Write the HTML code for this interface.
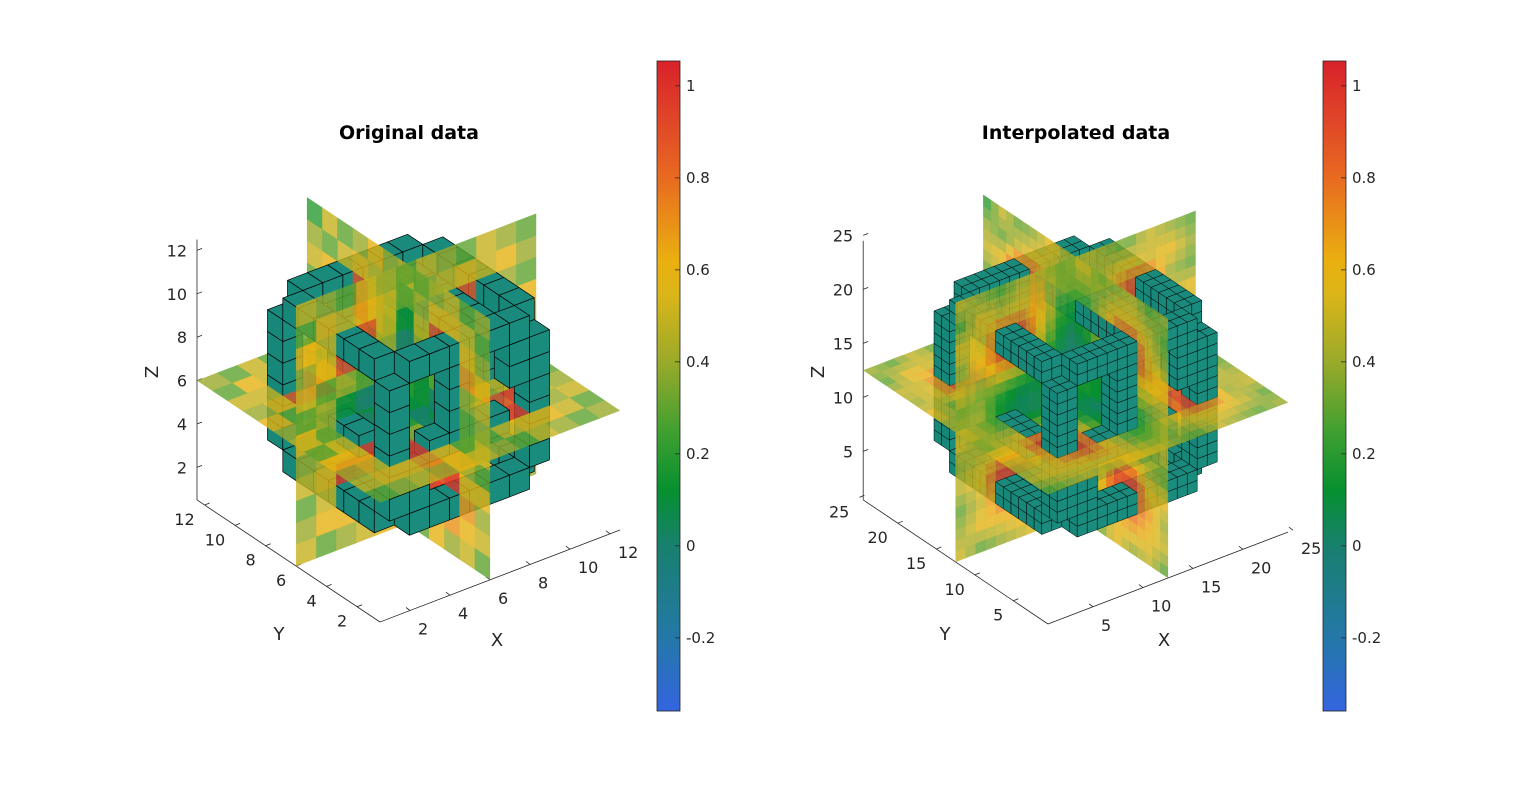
<!DOCTYPE html>
<html><head><meta charset="utf-8"><style>
body{margin:0;background:#fff;}
svg{display:block;font-family:"DejaVu Sans","Liberation Sans",sans-serif;}
</style></head><body>
<svg id="fig" width="1514" height="800" viewBox="0 0 1514 800">
<rect width="1514" height="800" fill="#fff"/>
<text x="409" y="139" text-anchor="middle" font-size="19" font-weight="bold" fill="#000">Original data</text>
<text x="1076" y="139" text-anchor="middle" font-size="19" font-weight="bold" fill="#000">Interpolated data</text>
<g id="left"></g>
<g id="right"></g>
<g id="cbars"></g>
</svg>
<script>
const planeX = [
[0.3,0.5,0.4,0.6,0.3,0.5,0.6,0.4,0.5,0.3,0.4,0.3],
[0.5,0.6,0.7,0.6,0.4,0.3,0.4,0.6,0.7,0.5,0.6,0.4],
[0.4,0.7,0.9,1.0,0.5,0.2,0.2,0.6,1.0,0.9,0.5,0.3],
[0.6,0.6,1.0,0.9,0.4,0.1,0.1,0.5,0.9,1.0,0.6,0.5],
[0.3,0.4,0.5,0.4,0.2,0.0,0.0,0.2,0.4,0.5,0.3,0.4],
[0.5,0.3,0.2,0.1,0.1,0.1,0.1,0.0,0.1,0.2,0.5,0.6],
[0.4,0.3,0.1,0.0,0.1,0.2,0.1,0.1,0.0,0.2,0.4,0.5],
[0.5,0.4,0.4,0.3,0.1,0.0,0.0,0.2,0.4,0.4,0.5,0.4],
[0.6,0.7,0.9,1.0,0.4,0.1,0.1,0.5,1.0,0.9,0.5,0.3],
[0.4,0.6,1.0,0.9,0.5,0.1,0.3,0.6,0.9,1.0,0.6,0.5],
[0.3,0.5,0.6,0.6,0.4,0.3,0.4,0.5,0.6,0.5,0.3,0.4],
[0.4,0.3,0.5,0.4,0.3,0.5,0.4,0.6,0.4,0.3,0.5,0.2]];
const planeY = [
[0.5,0.3,0.4,0.5,0.6,0.4,0.3,0.5,0.4,0.6,0.3,0.4],
[0.4,0.6,0.6,0.7,0.5,0.3,0.3,0.7,0.6,0.5,0.6,0.3],
[0.3,0.5,0.9,1.0,0.6,0.2,0.1,0.6,1.0,0.9,0.5,0.4],
[0.5,0.6,1.0,0.9,0.4,0.0,0.1,0.5,0.9,1.0,0.4,0.5],
[0.4,0.5,0.5,0.4,0.2,0.0,0.0,0.2,0.4,0.5,0.3,0.4],
[0.6,0.4,0.2,0.1,0.0,0.1,0.1,0.0,0.2,0.3,0.5,0.3],
[0.3,0.4,0.1,0.0,0.1,0.2,0.2,0.1,0.1,0.2,0.4,0.5],
[0.5,0.3,0.4,0.3,0.1,0.0,0.0,0.1,0.3,0.4,0.6,0.4],
[0.4,0.6,0.9,1.0,0.4,0.0,0.1,0.5,1.0,0.9,0.5,0.6],
[0.6,0.5,1.0,0.9,0.5,0.1,0.3,0.6,0.9,1.0,0.4,0.3],
[0.3,0.6,0.5,0.6,0.5,0.3,0.4,0.5,0.6,0.5,0.6,0.4],
[0.5,0.4,0.3,0.5,0.4,0.3,0.5,0.4,0.3,0.5,0.4,0.3]];
const planeZ = [
[0.3,0.4,0.5,0.4,0.6,0.5,0.4,0.3,0.5,0.4,0.3,0.4],
[0.5,0.6,0.6,0.7,0.6,0.3,0.3,0.5,0.6,0.6,0.5,0.3],
[0.4,0.5,0.9,1.0,0.5,0.2,0.2,0.6,1.0,0.9,0.4,0.5],
[0.6,0.6,1.0,0.9,0.4,0.0,0.1,0.5,0.9,1.0,0.5,0.4],
[0.3,0.5,0.5,0.4,0.2,0.0,0.0,0.2,0.4,0.5,0.6,0.3],
[0.5,0.3,0.2,0.0,0.1,0.1,0.2,0.0,0.1,0.3,0.4,0.5],
[0.4,0.4,0.1,0.1,0.0,0.2,0.1,0.1,0.0,0.2,0.3,0.4],
[0.6,0.3,0.4,0.3,0.1,0.0,0.0,0.1,0.3,0.4,0.5,0.3],
[0.4,0.6,0.9,1.0,0.4,0.0,0.2,0.5,1.0,0.9,0.6,0.5],
[0.5,0.5,1.0,0.9,0.5,0.2,0.3,0.6,0.9,1.0,0.4,0.4],
[0.3,0.6,0.5,0.6,0.5,0.3,0.4,0.6,0.5,0.5,0.6,0.3],
[0.4,0.3,0.5,0.3,0.4,0.5,0.4,0.3,0.4,0.5,0.3,0.4]];
const boxes = [
[3,10,3,3,3,3],[3,10,10,10,3,3],[3,10,3,3,10,10],[3,10,10,10,10,10],
[3,3,3,10,3,3],[10,10,3,10,3,3],[3,3,3,10,10,10],[10,10,3,10,10,10],
[3,3,3,3,3,10],[10,10,3,3,3,10],[3,3,10,10,3,10],[10,10,10,10,3,10],
[5,8,3,3,6,6],[6,6,3,3,6,9],[4,4,3,3,4,5],[9,9,3,3,8,9],[3,3,5,6,6,6],[7,8,4,8,10,10],
[6,7,10,10,4,9],[10,10,6,7,4,9],[4,9,6,7,3,3]];
const removed = [[3,3,3],[10,3,3],[3,10,3],[10,10,3],[3,3,10],[10,3,10],[3,10,10],[10,10,10]];
const ticksLeft = [2,4,6,8,10,12];
const ticksRight = [5,10,15,20,25];
const cbTicks = [-0.2,0,0.2,0.4,0.6,0.8,1];
const cbRange = [-0.359,1.054];

const stops=[[-0.36,[52,100,224]],[-0.2,[36,120,168]],[0,[24,128,110]],[0.12,[6,144,48]],[0.25,[64,160,48]],[0.4,[154,170,42]],[0.55,[220,181,24]],[0.62,[234,176,16]],[0.8,[232,106,32]],[0.92,[224,72,40]],[1.06,[216,32,42]]];
function cmap(v){
  if(v<=stops[0][0])return 'rgb('+stops[0][1]+')';
  for(let i=1;i<stops.length;i++){if(v<=stops[i][0]){const a=stops[i-1],b=stops[i];const t=(v-a[0])/(b[0]-a[0]);return 'rgb('+a[1].map((c,k)=>Math.round(c+(b[1][k]-c)*t)).join(',')+')';}}
  return 'rgb('+stops[stops.length-1][1]+')';
}
const NS='http://www.w3.org/2000/svg';
function el(tag,attrs,parent){const e=document.createElementNS(NS,tag);for(const k in attrs)e.setAttribute(k,attrs[k]);parent.appendChild(e);return e;}
function sample(arr,u,v){
  u=Math.min(Math.max(u,1),12)-1;v=Math.min(Math.max(v,1),12)-1;
  const u0=Math.min(Math.floor(u),10),v0=Math.min(Math.floor(v),10),fu=u-u0,fv=v-v0;
  return arr[v0][u0]*(1-fu)*(1-fv)+arr[v0][u0+1]*fu*(1-fv)+arr[v0+1][u0]*(1-fu)*fv+arr[v0+1][u0+1]*fu*fv;
}
function draw(g,cfg){
  const N=cfg.N,S=cfg.scale;
  const P=(x,y,z)=>[cfg.O[0]+(x-0.5)*cfg.ex[0]+(y-0.5)*cfg.ey[0],cfg.O[1]+(x-0.5)*cfg.ex[1]+(y-0.5)*cfg.ey[1]+(z-0.5)*cfg.ez];
  const depth=(x,y,z)=>x+1.311*y-0.971*z;
  const ax=[[P(0.5,N+0.5,0.5),P(0.5,N+0.5,N+0.5),'z-axis-line'],[P(0.5,0.5,0.5),P(0.5,N+0.5,0.5),'y-axis-line'],[P(0.5,0.5,0.5),P(N+0.5,0.5,0.5),'x-axis-line']];
  ax.forEach(a=>{const l=el('line',{x1:a[0][0],y1:a[0][1],x2:a[1][0],y2:a[1][1],stroke:'#262626','stroke-width':0.8},g);});
  cfg.ticks.forEach(t=>{
    let p=P(0.5,N+0.5,t);
    el('line',{x1:p[0],y1:p[1],x2:p[0]+5,y2:p[1]-2,stroke:'#262626','stroke-width':0.8},g);
    let tx=el('text',{x:p[0]-10,y:p[1]+6,'text-anchor':'end','font-size':16,fill:'#262626'},g);tx.textContent=t;
    
    p=P(0.5,t,0.5);
    el('line',{x1:p[0],y1:p[1],x2:p[0]+5,y2:p[1]-2,stroke:'#262626','stroke-width':0.8},g);
    tx=el('text',{x:p[0]-10,y:p[1]+20,'text-anchor':'end','font-size':16,fill:'#262626'},g);tx.textContent=t;
    
    p=P(t,0.5,0.5);
    el('line',{x1:p[0],y1:p[1],x2:p[0]-4,y2:p[1]-3,stroke:'#262626','stroke-width':0.8},g);
    tx=el('text',{x:p[0]+8,y:p[1]+24,'text-anchor':'start','font-size':16,fill:'#262626'},g);tx.textContent=t;
    
  });
  const labs=[['Z',cfg.lab.z],['Y',cfg.lab.y],['X',cfg.lab.x]];
  labs.forEach(l=>{const t=el('text',{x:l[1][0],y:l[1][1],'text-anchor':'middle','font-size':18,fill:'#262626'},g);t.textContent=l[0];
    
    if(l[0]==='Z')t.setAttribute('transform','rotate(-90 '+l[1][0]+' '+(l[1][1]-6)+')');});
  const prims=[];
  const c=cfg.mid;
  for(let a=1;a<=N;a++)for(let b=1;b<=N;b++){
    const u=1+(a-1)*11/(N-1),v=1+(b-1)*11/(N-1);
    prims.push({pts:[P(c,a-.5,b-.5),P(c,a+.5,b-.5),P(c,a+.5,b+.5),P(c,a-.5,b+.5)],d:depth(c,a,b),fill:cmap(sample(planeX,u,v)),plane:'x-slice-cell'});
    prims.push({pts:[P(a-.5,c,b-.5),P(a+.5,c,b-.5),P(a+.5,c,b+.5),P(a-.5,c,b+.5)],d:depth(a,c,b),fill:cmap(sample(planeY,u,v)),plane:'y-slice-cell'});
    prims.push({pts:[P(a-.5,b-.5,c),P(a+.5,b-.5,c),P(a+.5,b+.5,c),P(a-.5,b+.5,c)],d:depth(a,b,c),fill:cmap(sample(planeZ,u,v)),plane:'z-slice-cell'});
  }
  const occ=new Set();
  boxes.forEach(bx=>{for(let i=(bx[0]-1)*S+1;i<=bx[1]*S;i++)for(let j=(bx[2]-1)*S+1;j<=bx[3]*S;j++)for(let k=(bx[4]-1)*S+1;k<=bx[5]*S;k++)occ.add(i+','+j+','+k);});
  removed.forEach(r=>{for(let i=(r[0]-1)*S+1;i<=r[0]*S;i++)for(let j=(r[1]-1)*S+1;j<=r[1]*S;j++)for(let k=(r[2]-1)*S+1;k<=r[2]*S;k++)occ.delete(i+','+j+','+k);});
  occ.forEach(key=>{
    const [i,j,k]=key.split(',').map(Number);
    if(!occ.has((i-1)+','+j+','+k))prims.push({pts:[P(i-.5,j-.5,k-.5),P(i-.5,j+.5,k-.5),P(i-.5,j+.5,k+.5),P(i-.5,j-.5,k+.5)],d:depth(i-.5,j,k),fill:'#17877a'});
    if(!occ.has(i+','+(j-1)+','+k))prims.push({pts:[P(i-.5,j-.5,k-.5),P(i+.5,j-.5,k-.5),P(i+.5,j-.5,k+.5),P(i-.5,j-.5,k+.5)],d:depth(i,j-.5,k),fill:'#1a8c7e'});
    if(!occ.has(i+','+j+','+(k+1)))prims.push({pts:[P(i-.5,j-.5,k+.5),P(i+.5,j-.5,k+.5),P(i+.5,j+.5,k+.5),P(i-.5,j+.5,k+.5)],d:depth(i,j,k+.5),fill:'#198a7c'});
  });
  prims.sort((a,b)=>b.d-a.d);
  prims.forEach(p=>{
    const pts=p.pts.map(q=>q[0].toFixed(1)+','+q[1].toFixed(1)).join(' ');
    let e;
    if(p.plane){e=el('polygon',{points:pts,fill:p.fill,'fill-opacity':0.8,stroke:p.fill,'stroke-opacity':0.5,'stroke-width':0.3},g);}
    else{e=el('polygon',{points:pts,fill:p.fill,stroke:'#000','stroke-width':cfg.sw,'stroke-linejoin':'round'},g);}
    
  });
}
draw(document.getElementById('left'),{N:12,scale:1,mid:6,O:[380,622],ex:[20,-7.67],ey:[-15.25,-10.17],ez:-21.7,ticks:ticksLeft,sw:0.7,lab:{z:[152,378],y:[279,640],x:[497,646]}});
draw(document.getElementById('right'),{N:24,scale:2,mid:12.5,O:[1048,624],ex:[10,-3.83],ey:[-7.7,-5.17],ez:-10.8,ticks:ticksRight,sw:0.5,lab:{z:[818,378],y:[945,640],x:[1164,646]}});
const cg=document.getElementById('cbars');
[657,1323].forEach((x0,idx)=>{
  const g=el('g',{},cg);
  
  
  const top=61,bot=711,H=bot-top;
  for(let p=0;p<H;p++){const v=cbRange[1]-(p+0.5)/H*(cbRange[1]-cbRange[0]);el('rect',{x:x0,y:top+p,width:23,height:1.2,fill:cmap(v)},g);}
  el('rect',{x:x0,y:top,width:23,height:H,fill:'none',stroke:'#262626','stroke-width':0.8},g);
  cbTicks.forEach(t=>{const y=top+(cbRange[1]-t)/(cbRange[1]-cbRange[0])*H;
    el('line',{x1:x0+18,y1:y,x2:x0+23,y2:y,stroke:'#262626','stroke-width':0.8},g);
    const tx=el('text',{x:x0+29,y:y+5,'font-size':15,fill:'#262626'},g);tx.textContent=t;
    });
});
</script>
</body></html>
